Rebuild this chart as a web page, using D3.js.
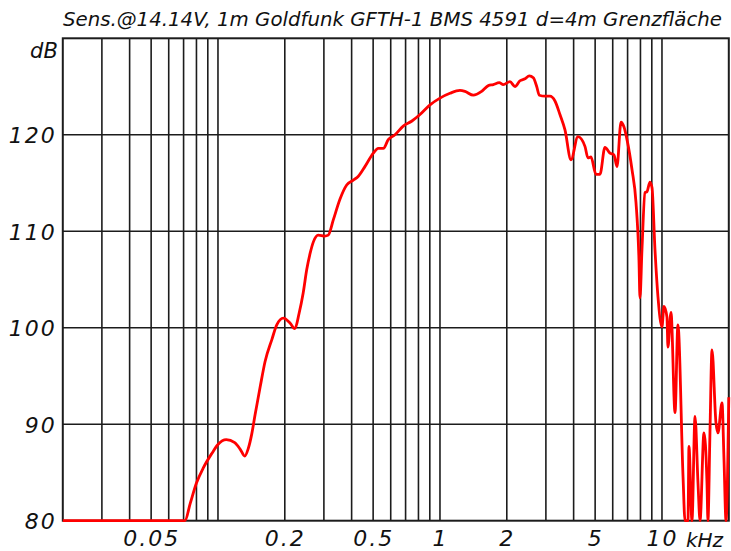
<!DOCTYPE html>
<html>
<head>
<meta charset="utf-8">
<script src="https://cdn.jsdelivr.net/npm/d3@7"></script>
<style>
  html, body { margin: 0; padding: 0; background: #fff; }
  svg { display: block; }
  text { font-family: "DejaVu Sans", sans-serif; font-style: italic; fill: #111; }
</style>
</head>
<body>
<svg id="chart" width="731" height="551"></svg>
<script>
const title = "Sens.@14.14V, 1m Goldfunk GFTH-1 BMS 4591 d=4m Grenzfläche";
const yUnit = "dB";
const xUnit = "kHz";

// frequency (Hz) and sound pressure level (dB)
const freqHz = [20, 71, 75, 80, 86, 94, 100, 109, 119, 126, 132, 137, 142, 147, 155, 163, 175, 184, 197, 211, 222, 232, 242, 251, 260, 269, 283, 303, 314, 331, 354, 380, 407, 429, 459, 501, 527, 556, 585, 627, 683, 745, 813, 902, 1000, 1109, 1230, 1296, 1413, 1541, 1651, 1738, 1849, 1928, 2067, 2177, 2293, 2415, 2525, 2633, 2727, 2802, 2972, 3130, 3296, 3471, 3657, 3892, 4183, 4499, 4642, 4788, 5043, 5256, 5536, 5833, 6080, 6272, 6538, 6745, 6958, 7327, 7637, 7878, 7960, 8127, 8383, 8560, 8830, 9020, 9300, 9594, 10000, 10210, 10530, 10640, 10980, 11450, 11800, 12440, 12700, 13100, 13230, 13650, 14090, 14530, 14840, 15460, 15950, 16110, 16450, 16800, 17500, 17870, 18640, 19030, 19430, 20000];
const spl = [80, 80, 81.8, 83.9, 85.5, 87.0, 87.9, 88.4, 88.1, 87.4, 86.7, 87.5, 89.0, 91.0, 93.9, 96.5, 98.8, 100.3, 101.0, 100.5, 99.9, 101.5, 103.6, 106.0, 107.7, 108.9, 109.6, 109.5, 109.6, 111.2, 113.3, 114.8, 115.3, 115.7, 116.7, 118.1, 118.6, 118.6, 119.5, 120.0, 120.9, 121.4, 122.1, 123.1, 123.8, 124.3, 124.6, 124.5, 124.1, 124.5, 125.1, 125.2, 125.4, 125.2, 125.5, 125.0, 125.6, 125.8, 126.1, 125.9, 125.0, 124.1, 124.0, 124.0, 123.5, 122.1, 120.5, 117.4, 119.8, 118.8, 117.6, 117.7, 115.9, 115.9, 118.7, 118.1, 117.9, 116.7, 121.3, 120.8, 119.5, 116.4, 113.0, 107.0, 103.1, 108.1, 114.0, 114.1, 115.1, 114.5, 108.1, 103.2, 100.1, 102.2, 101.1, 98.0, 101.6, 91.2, 100.3, 84.6, 80, 80, 87.7, 80, 90.8, 83.9, 80, 89.1, 83.9, 80, 89.1, 97.7, 90.2, 89.1, 92.2, 86.3, 80, 92.8];

// axis ticks
const yTicks = [80, 90, 100, 110, 120];
const yGrid = [90, 100, 110, 120];
const xGrid = [30, 40, 50, 60, 70, 80, 90, 100, 200, 300, 400, 500, 600, 700, 800, 900, 1000, 2000, 3000, 4000, 5000, 6000, 7000, 8000, 9000, 10000];
const xTicks = [50, 200, 500, 1000, 2000, 5000, 10000];
const xTickLabels = ["0.05", "0.2", "0.5", "1", "2", "5", "10"];

const svg = d3.select("#chart");
const L = 62.8, R = 728.8, T = 38.3, B = 520.7;

const x = d3.scaleLog().domain([20, 20000]).range([L, R]);
const y = d3.scaleLinear().domain([80, 130]).range([B, T]);

// grid
const grid = svg.append("g").attr("stroke", "#1c1c1c").attr("stroke-width", 1.6);
grid.selectAll("line.v").data(xGrid).join("line")
  .attr("x1", d => x(d)).attr("x2", d => x(d)).attr("y1", T).attr("y2", B);
grid.selectAll("line.h").data(yGrid).join("line")
  .attr("x1", L).attr("x2", R).attr("y1", d => y(d)).attr("y2", d => y(d));

svg.append("rect").attr("x", L).attr("y", T).attr("width", R - L).attr("height", B - T)
  .attr("fill", "none").attr("stroke", "#1c1c1c").attr("stroke-width", 2);

// curve
const line = d3.line().x((d, i) => x(freqHz[i])).y(d => y(d)).curve(d3.curveMonotoneX);
svg.append("path").datum(spl).attr("d", line)
  .attr("fill", "none").attr("stroke", "#ff0000").attr("stroke-width", 2.8)
  .attr("stroke-linejoin", "round");

// y axis labels
const yAxis = d3.axisLeft(y).tickValues(yTicks).tickSize(0).tickPadding(6).tickFormat(d3.format("d"));
const gy = svg.append("g").attr("transform", `translate(${L},0)`).call(yAxis);
gy.select(".domain").remove();
gy.selectAll("text").attr("font-size", 22).attr("font-family", "DejaVu Sans, sans-serif")
  .attr("font-style", "italic").attr("letter-spacing", "2px").attr("fill", "#111").attr("dy", "0.36em");

svg.append("text").attr("x", L - 5).attr("y", 58).attr("text-anchor", "end")
  .attr("font-size", 21).text(yUnit);

// x axis labels
const xAxis = d3.axisBottom(x).tickValues(xTicks).tickSize(0).tickPadding(10)
  .tickFormat((d, i) => xTickLabels[i]);
const gx = svg.append("g").attr("transform", `translate(0,${B})`).call(xAxis);
gx.select(".domain").remove();
gx.selectAll("text").attr("font-size", 22).attr("font-family", "DejaVu Sans, sans-serif")
  .attr("font-style", "italic").attr("letter-spacing", "2px").attr("fill", "#111");

svg.append("text").attr("x", 723).attr("y", 547).attr("text-anchor", "end")
  .attr("font-size", 20).text(xUnit);

// title
svg.append("text").attr("x", 63).attr("y", 26)
  .attr("font-size", 19).attr("textLength", 659).attr("lengthAdjust", "spacingAndGlyphs")
  .text(title);
</script>
</body>
</html>
